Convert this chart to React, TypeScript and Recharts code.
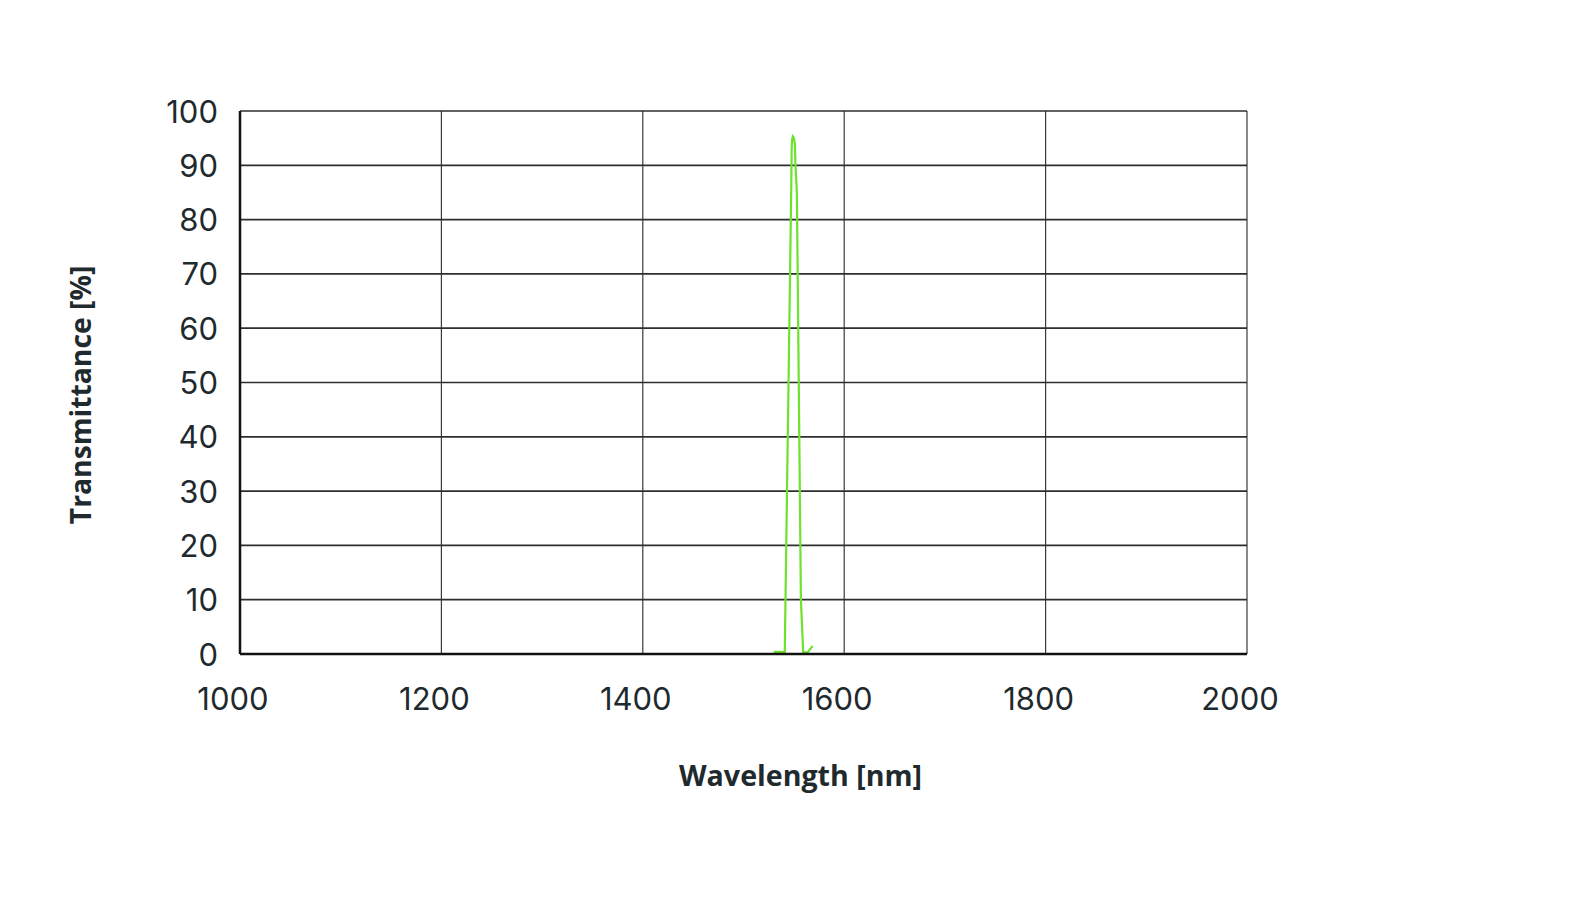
import React from "react";
import { LineChart, Line, XAxis, YAxis, CartesianGrid, Label } from "recharts";

const wavelengths = [1530, 1541, 1541.7, 1547.5, 1547.8, 1548.3, 1549, 1550, 1551, 1551.6, 1553, 1557, 1559.3, 1563.7, 1568.7];
const transmittance = [0.4, 0.4, 10, 87, 93, 94.8, 95.3, 95, 94, 90, 85, 10, 0.3, 0.3, 1.5];
const xTicks = [1000, 1200, 1400, 1600, 1800, 2000];
const yTicks = [0, 10, 20, 30, 40, 50, 60, 70, 80, 90, 100];

const data = wavelengths.map((w, i) => ({ w, t: transmittance[i] }));

const TEXT = "#1f2a2e";
const FONT = "Inter, 'Open Sans', sans-serif";

const XTick = (props: any) => {
  const { x, y, payload } = props;
  return (
    <text x={x - 7} y={y + 44} textAnchor="middle" dominantBaseline="central" fill={TEXT} fontSize={31} fontFamily={FONT}>
      {payload.value}
    </text>
  );
};

const YTick = (props: any) => {
  const { x, y, payload } = props;
  return (
    <text x={x - 22} y={y} textAnchor="end" dominantBaseline="central" fill={TEXT} fontSize={31} fontFamily={FONT}>
      {payload.value}
    </text>
  );
};

export default function App() {
  return (
    <div style={{ width: 1580, height: 881, background: "#fff" }}>
      <LineChart width={1580} height={881} data={data} margin={{ top: 103, right: 341, bottom: 175, left: 0 }}>
        <CartesianGrid horizontal={false} vertical={true} stroke="#3a3a3a" strokeWidth={1.2} />
        <CartesianGrid horizontal={true} vertical={false} stroke="#2e2e2e" strokeWidth={1.7} />
        <XAxis
          dataKey="w"
          type="number"
          domain={[1000, 2000]}
          ticks={xTicks}
          tickLine={false}
          tickSize={0}
          tickMargin={0}
          axisLine={{ stroke: "#111", strokeWidth: 2.5 }}
          tick={<XTick />}
          height={60}
          interval={0}
        >
          <Label
            content={(p: any) => {
              const vb = p.viewBox;
              return (
                <text x={vb.x + vb.width / 2 + 57} y={vb.y + 120} textAnchor="middle" dominantBaseline="central" fill={TEXT} fontSize={28.6} fontWeight={700} fontFamily="'Open Sans', sans-serif">
                  Wavelength [nm]
                </text>
              );
            }}
          />
        </XAxis>
        <YAxis
          type="number"
          domain={[0, 100]}
          ticks={yTicks}
          tickLine={false}
          tickSize={0}
          tickMargin={0}
          axisLine={{ stroke: "#111", strokeWidth: 2.5 }}
          tick={<YTick />}
          width={232}
          interval={0}
        >
          <Label
            content={(p: any) => {
              const vb = p.viewBox;
              const cx = 71.5;
              const cy = vb.y + vb.height / 2 + 12.5;
              return (
                <text x={cx} y={cy} transform={`rotate(-90 ${cx} ${cy})`} textAnchor="middle" dominantBaseline="central" fill={TEXT} fontSize={28.3} fontWeight={700} fontFamily="'Open Sans', sans-serif">
                  Transmittance [%]
                </text>
              );
            }}
          />
        </YAxis>
        <Line type="linear" dataKey="t" stroke="#6ee22c" strokeWidth={2.2} dot={false} isAnimationActive={false} />
      </LineChart>
    </div>
  );
}
